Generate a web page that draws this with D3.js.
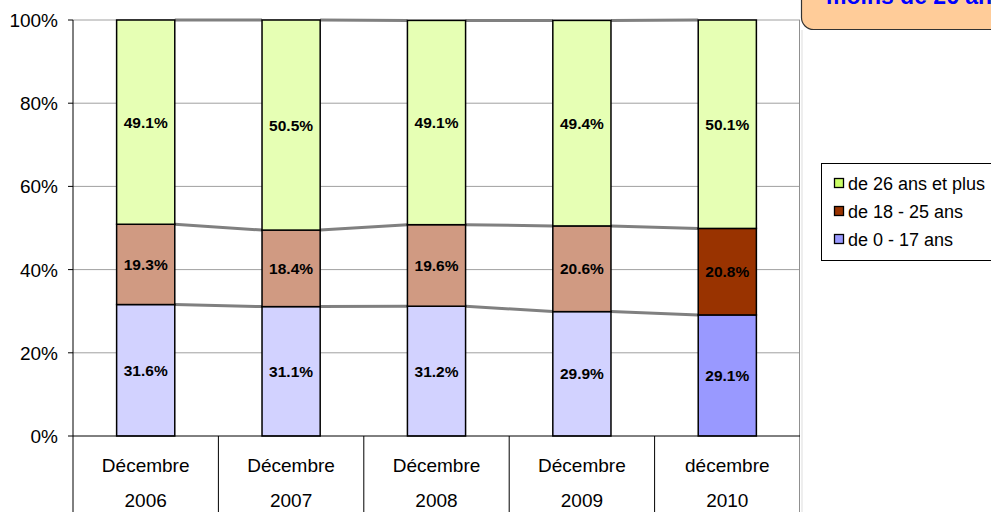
<!DOCTYPE html>
<html><head><meta charset="utf-8">
<script src="https://cdn.jsdelivr.net/npm/d3@7"></script>
<style>body{margin:0;background:#fff;}svg{display:block;font-family:"Liberation Sans",Arial,sans-serif;}</style>
</head><body>
<svg id="c" width="991" height="512"></svg>
<script>
const categories = [["Décembre","2006"],["Décembre","2007"],["Décembre","2008"],["Décembre","2009"],["décembre","2010"]];
const seriesNames = ["de 0 - 17 ans","de 18 - 25 ans","de 26 ans et plus"];
const age0_17 = [31.6,31.1,31.2,29.9,29.1];
const age18_25 = [19.3,18.4,19.6,20.6,20.8];
const age26plus = [49.1,50.5,49.1,49.4,50.1];
const yTicks = [0,20,40,60,80,100];
const titleText = "moins de 26 ans";

const svg = d3.select("#c");
const m = {l:73, r:800, t:20, b:436};
const x = d3.scaleBand().domain(d3.range(categories.length)).range([m.l,m.r]).paddingInner(0).paddingOuter(0);
const y = d3.scaleLinear().domain([0,100]).range([m.b,m.t]);
const barW = x.bandwidth()*0.4;

const pale = ["#d2d2ff","#d09a82","#e6ffb4"];
const solid = ["#9999ff","#993300","#ccff66"];

// gridlines
svg.append("g").selectAll("line").data(yTicks.filter(d=>d>0)).join("line")
  .attr("x1",m.l).attr("x2",m.r).attr("y1",d=>y(d)).attr("y2",d=>y(d))
  .attr("stroke","#a0a0a0").attr("stroke-width",1);
// right border
svg.append("line").attr("x1",m.r-0.5).attr("x2",m.r-0.5).attr("y1",m.t).attr("y2",512).attr("stroke","#909090");
svg.append("line").attr("x1",m.r+2).attr("x2",m.r+2).attr("y1",30).attr("y2",512).attr("stroke","#dddddd");

// stack
const keys = ["a","b","c"];
const table = categories.map((c,i)=>({i, a:age0_17[i], b:age18_25[i], c:age26plus[i]}));
const stack = d3.stack().keys(keys)(table);

// connector lines
stack.forEach(layer=>{
  for(let i=0;i<layer.length-1;i++){
    const x1 = x(i)+x.bandwidth()/2+barW/2, x2 = x(i+1)+x.bandwidth()/2-barW/2;
    svg.append("line").attr("x1",x1).attr("x2",x2)
      .attr("y1",y(layer[i][1])).attr("y2",y(layer[i+1][1]))
      .attr("stroke","#808080").attr("stroke-width",3);
  }
});

// bars
stack.forEach((layer,si)=>{
  svg.append("g").selectAll("rect").data(layer).join("rect")
    .attr("x",(d,i)=>x(i)+x.bandwidth()/2-barW/2)
    .attr("width",barW)
    .attr("y",d=>y(d[1]))
    .attr("height",d=>y(d[0])-y(d[1]))
    .attr("fill",(d,i)=> (i===4 && si<2) ? solid[si] : pale[si])
    .attr("stroke","#000").attr("stroke-width",1.5);
  svg.append("g").selectAll("text").data(layer).join("text")
    .attr("x",(d,i)=>x(i)+x.bandwidth()/2)
    .attr("y",d=>y((d[0]+d[1])/2)+5.5)
    .attr("text-anchor","middle").attr("font-size",15.5).attr("font-weight","bold").attr("fill","#000")
    .text(d=>d.data[keys[si]].toFixed(1)+"%");
});

// y axis
svg.append("line").attr("x1",m.l).attr("x2",m.l).attr("y1",m.t).attr("y2",512).attr("stroke","#000");
svg.append("g").selectAll("line").data(yTicks).join("line")
  .attr("x1",m.l-5).attr("x2",m.l).attr("y1",d=>y(d)).attr("y2",d=>y(d)).attr("stroke","#000");
svg.append("g").selectAll("text").data(yTicks).join("text")
  .attr("x",58).attr("y",d=>y(d)+7).attr("text-anchor","end").attr("font-size",19).attr("fill","#000")
  .text(d=>d+"%");

// x axis
svg.append("line").attr("x1",m.l).attr("x2",m.r).attr("y1",m.b).attr("y2",m.b).attr("stroke","#000");
svg.append("g").selectAll("line").data(d3.range(1,categories.length)).join("line")
  .attr("x1",d=>x(d)).attr("x2",d=>x(d)).attr("y1",m.b).attr("y2",512).attr("stroke","#000");
const xl = svg.append("g").selectAll("g").data(categories).join("g");
xl.append("text").attr("x",(d,i)=>x(i)+x.bandwidth()/2).attr("y",471.5).attr("text-anchor","middle")
  .attr("font-size",19).text(d=>d[0]);
xl.append("text").attr("x",(d,i)=>x(i)+x.bandwidth()/2).attr("y",507).attr("text-anchor","middle")
  .attr("font-size",19).text(d=>d[1]);

// legend
svg.append("rect").attr("x",821.5).attr("y",163.5).attr("width",200).attr("height",97).attr("fill","#fff").attr("stroke","#000");
const legOrder = [2,1,0];
legOrder.forEach((si,k)=>{
  const yc = 183 + k*28;
  svg.append("rect").attr("x",834.5).attr("y",yc-4.5).attr("width",9).attr("height",9).attr("fill",solid[si]).attr("stroke","#000").attr("stroke-width",1.3);
  svg.append("text").attr("x",848).attr("y",yc+6.5).attr("font-size",18).text(seriesNames[si]);
});

// title box
svg.append("rect").attr("x",801.5).attr("y",-40).attr("width",260).attr("height",69.5).attr("rx",12)
  .attr("fill","#ffcc99").attr("stroke","#333").attr("stroke-width",1.2);
svg.append("text").attr("x",826).attr("y",3.5).attr("font-size",23).attr("font-weight","bold").attr("fill","#0000ff").text(titleText);
</script>
</body></html>
